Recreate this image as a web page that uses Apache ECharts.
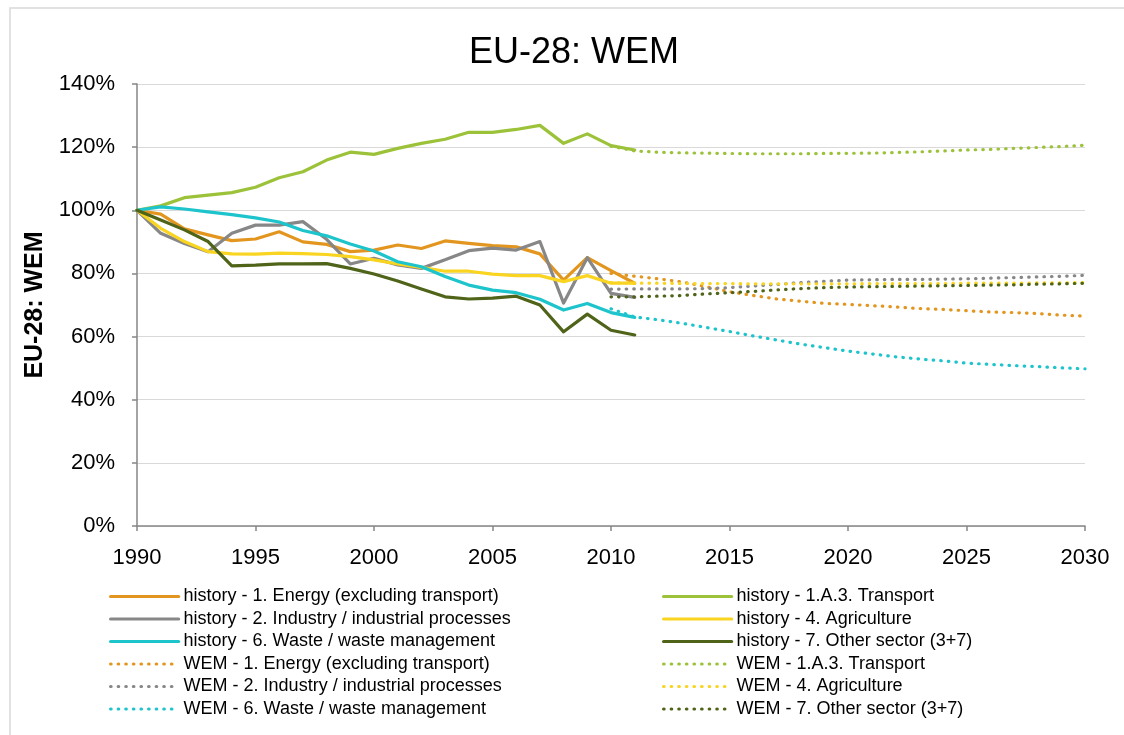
<!DOCTYPE html>
<html>
<head>
<meta charset="utf-8">
<title>EU-28: WEM</title>
<script src="https://cdn.jsdelivr.net/npm/echarts@6/dist/echarts.min.js"></script>
<style>
  html, body { margin: 0; padding: 0; background: #ffffff; }
  #chart { width: 1124px; height: 735px; }
</style>
</head>
<body>
<div id="chart"></div>
<script>
// Index of emissions relative to 1990 (%), EU-28, with-existing-measures projection
const historyYears = [1990, 1991, 1992, 1993, 1994, 1995, 1996, 1997, 1998, 1999, 2000,
                      2001, 2002, 2003, 2004, 2005, 2006, 2007, 2008, 2009, 2010, 2011];
const wemYears = [2010, 2011, 2012, 2013, 2014, 2015, 2016, 2017, 2018, 2019, 2020,
                  2021, 2022, 2023, 2024, 2025, 2026, 2027, 2028, 2029, 2030];

const energyHistory      = [100, 98.8, 94.1, 92.2, 90.4, 90.9, 93.2, 90.0, 89.2, 86.9, 87.4, 89.0, 87.9, 90.3, 89.5, 88.8, 88.4, 86.2, 77.9, 85.0, 80.9, 76.9];
const transportHistory   = [100, 101.4, 104.0, 104.8, 105.6, 107.3, 110.3, 112.2, 115.9, 118.4, 117.7, 119.6, 121.2, 122.5, 124.7, 124.7, 125.6, 126.9, 121.2, 124.2, 120.5, 119.1];
const industryHistory    = [100, 92.7, 89.5, 86.9, 92.7, 95.3, 95.3, 96.4, 90.8, 83.0, 84.8, 82.7, 81.6, 84.3, 87.2, 88.0, 87.4, 90.1, 70.6, 85.0, 73.7, 72.4];
const agricultureHistory = [100, 94.3, 90.1, 86.9, 86.2, 86.1, 86.4, 86.3, 86.0, 85.3, 84.3, 83.0, 81.9, 80.7, 80.7, 79.8, 79.3, 79.3, 77.4, 79.3, 76.9, 76.9];
const wasteHistory       = [100, 101.1, 100.4, 99.5, 98.6, 97.6, 96.3, 93.6, 91.9, 89.3, 87.1, 83.7, 82.1, 79.0, 76.3, 74.7, 73.9, 71.8, 68.4, 70.5, 67.6, 66.1];
const otherHistory       = [100, 96.9, 93.8, 90.1, 82.4, 82.6, 83.0, 83.0, 83.1, 81.6, 79.8, 77.6, 75.1, 72.6, 71.9, 72.2, 72.8, 70.0, 61.5, 67.1, 62.0, 60.5];

const energyWem      = [80.0, 79.1, 78.3, 77.3, 75.8, 74.2, 73.0, 71.9, 71.2, 70.5, 70.2, 69.8, 69.4, 68.9, 68.6, 68.2, 67.8, 67.6, 67.3, 66.8, 66.5];
const transportWem   = [120.3, 118.8, 118.4, 118.2, 118.1, 118.0, 117.9, 117.9, 117.9, 118.0, 118.05, 118.1, 118.3, 118.5, 118.8, 119.1, 119.3, 119.6, 119.9, 120.2, 120.6];
const industryWem    = [75.0, 75.1, 75.1, 75.1, 75.2, 75.5, 76.0, 76.5, 77.1, 77.5, 77.9, 78.0, 78.1, 78.1, 78.2, 78.3, 78.5, 78.7, 78.9, 79.1, 79.4];
const agricultureWem = [77.1, 76.9, 76.9, 76.8, 76.8, 76.8, 76.7, 76.7, 76.7, 76.7, 76.7, 76.8, 76.8, 76.8, 76.8, 76.9, 76.9, 76.9, 77.0, 77.0, 77.1];
const wasteWem       = [68.8, 66.2, 65.3, 64.2, 62.9, 61.6, 60.2, 58.9, 57.6, 56.5, 55.4, 54.5, 53.6, 52.9, 52.3, 51.6, 51.2, 50.8, 50.5, 50.1, 49.8];
const otherWem       = [72.6, 72.6, 72.8, 73.0, 73.5, 73.9, 74.3, 74.8, 75.2, 75.5, 75.7, 75.8, 75.9, 76.0, 76.1, 76.2, 76.3, 76.4, 76.6, 76.7, 76.9];

const yTicks = [0, 20, 40, 60, 80, 100, 120, 140];
const xTicks = [1990, 1995, 2000, 2005, 2010, 2015, 2020, 2025, 2030];

const colors = {
  energy: '#E3961F',
  transport: '#9CC23A',
  industry: '#878787',
  agriculture: '#F9D420',
  waste: '#1DC4CC',
  other: '#4F6419'
};

const FONT = '"Liberation Sans", Arial, Helvetica, sans-serif';
const DOTS = [0.5, 7.1];

function pairs(years, values) {
  return years.map((y, i) => [y, values[i]]);
}

function histSeries(name, values, color) {
  return {
    name: name, type: 'line', data: pairs(historyYears, values),
    symbol: 'none', showSymbol: false,
    lineStyle: { color: color, width: 3.2, cap: 'round', join: 'round' },
    itemStyle: { color: color }
  };
}
function wemSeries(name, values, color) {
  return {
    name: name, type: 'line', data: pairs(wemYears, values),
    symbol: 'none', showSymbol: false,
    lineStyle: { color: color, width: 3.2, type: DOTS, cap: 'round' },
    itemStyle: { color: color }
  };
}

const series = [
  histSeries('history - 1. Energy (excluding transport)', energyHistory, colors.energy),
  histSeries('history - 1.A.3. Transport', transportHistory, colors.transport),
  histSeries('history - 2. Industry / industrial processes', industryHistory, colors.industry),
  histSeries('history - 4. Agriculture', agricultureHistory, colors.agriculture),
  histSeries('history - 6. Waste / waste management', wasteHistory, colors.waste),
  histSeries('history - 7. Other sector (3+7)', otherHistory, colors.other),
  wemSeries('WEM - 1. Energy (excluding transport)', energyWem, colors.energy),
  wemSeries('WEM - 1.A.3. Transport', transportWem, colors.transport),
  wemSeries('WEM - 2. Industry / industrial processes', industryWem, colors.industry),
  wemSeries('WEM - 4. Agriculture', agricultureWem, colors.agriculture),
  wemSeries('WEM - 6. Waste / waste management', wasteWem, colors.waste),
  wemSeries('WEM - 7. Other sector (3+7)', otherWem, colors.other)
];

const names = series.map(s => s.name);
// Line samples only: the marker that line legends add is made invisible
const legendCommon = {
  orient: 'vertical',
  top: 582.5,
  itemWidth: 68,
  itemHeight: 18,
  itemGap: 4.5,
  lineStyle: { width: 3.2 },
  itemStyle: { color: 'rgba(0,0,0,0)', borderWidth: 0, opacity: 0 },
  textStyle: { fontFamily: FONT, fontSize: 18, color: '#000000' },
  selectedMode: false
};

const chart = echarts.init(document.getElementById('chart'), null, { renderer: 'canvas' });
chart.setOption({
  animation: false,
  backgroundColor: '#ffffff',
  title: {
    text: 'EU-28: WEM',
    left: 464,
    top: 30,
    textStyle: { fontFamily: FONT, fontSize: 36, fontWeight: 'normal', color: '#000000' }
  },
  graphic: [{
    type: 'rect', silent: true, z: -10,
    shape: { x: 10, y: 8, width: 1300, height: 900 },
    style: { fill: 'none', stroke: '#D9D9D9', lineWidth: 1.5 }
  }],
  legend: [
    Object.assign({}, legendCommon, { left: 104, data: names.filter((_, i) => i % 2 === 0) }),
    Object.assign({}, legendCommon, { left: 657, data: names.filter((_, i) => i % 2 === 1) })
  ],
  grid: { left: 137, right: 1124 - 1085, top: 84, bottom: 735 - 526, containLabel: false },
  xAxis: {
    type: 'value',
    min: xTicks[0], max: xTicks[xTicks.length - 1], interval: 5,
    axisLine: { show: true, lineStyle: { color: '#868686', width: 1.5 } },
    axisTick: { show: true, length: 5, lineStyle: { color: '#868686', width: 1.5 } },
    splitLine: { show: false },
    axisLabel: {
      fontFamily: FONT, fontSize: 22, color: '#000000', margin: 21,
      formatter: v => String(v)
    }
  },
  yAxis: {
    type: 'value',
    min: yTicks[0], max: yTicks[yTicks.length - 1], interval: 20,
    name: 'EU-28: WEM',
    nameLocation: 'middle',
    nameGap: 88,
    nameTextStyle: { fontFamily: FONT, fontSize: 25, fontWeight: 'bold', color: '#000000' },
    axisLine: { show: true, lineStyle: { color: '#868686', width: 1.5 } },
    axisTick: { show: true, inside: false, length: 5, lineStyle: { color: '#868686', width: 1.5 } },
    splitLine: { show: true, lineStyle: { color: '#D9D9D9', width: 1 } },
    axisLabel: {
      fontFamily: FONT, fontSize: 22, color: '#000000', margin: 22,
      formatter: v => v + '%'
    }
  },
  series: series
});
</script>
</body>
</html>
